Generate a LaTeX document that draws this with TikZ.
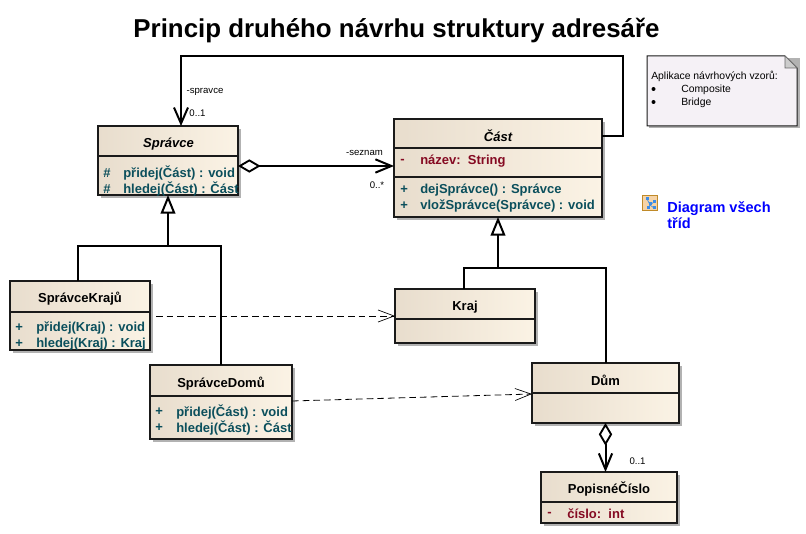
\documentclass[tikz,border=0pt]{standalone}
\usepackage{fontspec}
\setmainfont{Liberation Sans}
\usepackage{xcolor}
\usetikzlibrary{arrows.meta,shadows}
\definecolor{ramecek}{HTML}{1A1A1A}
\definecolor{levaBarva}{HTML}{E8DDCD}
\definecolor{pravaBarva}{HTML}{FBF3E5}
\definecolor{operaceBarva}{HTML}{0B4F5C}
\definecolor{atributBarva}{HTML}{850A22}
\definecolor{poznamkaBarva}{HTML}{F5F1F6}
\definecolor{ikonaRam}{HTML}{C08A28}
\definecolor{ikonaVypln}{HTML}{F6D3A6}
\definecolor{ikonaModra}{HTML}{3C8CE6}

\begin{document}
\begin{tikzpicture}[
  x=0.75pt,y=-0.75pt,
  trida/.style={draw=ramecek,line width=1.5pt,left color=levaBarva,right color=pravaBarva,
    inner sep=0pt,outer sep=0pt,general shadow={fill=black!30,shadow xshift=2.5pt,shadow yshift=-2.5pt}},
  predel/.style={draw=ramecek,line width=1.5pt},
  nazev/.style={font=\fontsize{9.75}{12}\selectfont\bfseries,text=black},
  operace/.style={anchor=west,inner sep=0pt,font=\fontsize{9.75}{12}\selectfont\bfseries,text=operaceBarva},
  atribut/.style={anchor=west,inner sep=0pt,font=\fontsize{9.75}{12}\selectfont\bfseries,text=atributBarva},
  popisek/.style={inner sep=0pt,font=\fontsize{7.2}{9}\selectfont},
  vzor/.style={inner sep=0pt,anchor=west,font=\fontsize{7.8}{9}\selectfont},
  spoj/.style={draw=black,line width=1.5pt},
  asociace/.style={spoj,-{Straight Barb[length=12pt,width=10.5pt,line width=1.5pt]}},
  agregace/.style={spoj,{Diamond[open,fill=white,length=17pt,width=10pt,line width=1.4pt]}-{Straight Barb[length=12pt,width=10pt,line width=1.5pt]}},
  dedicnost/.style={spoj,-{Triangle[open,fill=white,length=14pt,width=11pt,line width=1.5pt]}},
  zavislost/.style={draw=black,line width=0.6pt,dash pattern=on 5pt off 3pt,-{Straight Barb[length=12pt,width=9pt,line width=0.5pt]}}
]
\useasboundingbox (0,0) rectangle (806,534);

\node[font=\fontsize{19.4}{23}\selectfont\bfseries] (titulek) at (396.5,31) {Princip druhého návrhu struktury adresáře};

% tridy
\node[trida,minimum width=105pt,minimum height=51.75pt] (spravce) at (168,160.5) {};
\node[trida,minimum width=156pt,minimum height=73.5pt] (cast) at (498,168) {};
\node[trida,minimum width=105pt,minimum height=51.75pt] (spravceKraju) at (80,315.5) {};
\node[trida,minimum width=106.5pt,minimum height=55.5pt] (spravceDomu) at (221,402) {};
\node[trida,minimum width=105pt,minimum height=40.5pt] (kraj) at (465,316) {};
\node[trida,minimum width=110.25pt,minimum height=45pt] (dum) at (605.5,393) {};
\node[trida,minimum width=102pt,minimum height=38.25pt] (popisneCislo) at (609,497.5) {};

% predely
\draw[predel] (spravce.west |- 0,156) -- (spravce.east |- 0,156);
\draw[predel] (cast.west |- 0,148) -- (cast.east |- 0,148);
\draw[predel] (cast.west |- 0,177) -- (cast.east |- 0,177);
\draw[predel] (spravceKraju.west |- 0,312) -- (spravceKraju.east |- 0,312);
\draw[predel] (spravceDomu.west |- 0,396) -- (spravceDomu.east |- 0,396);
\draw[predel] (kraj.west |- 0,319) -- (kraj.east |- 0,319);
\draw[predel] (dum.west |- 0,393) -- (dum.east |- 0,393);
\draw[predel] (popisneCislo.west |- 0,502) -- (popisneCislo.east |- 0,502);

% nazvy trid
\node[nazev,font=\fontsize{9.75}{12}\selectfont\bfseries\itshape] (spravceNazev) at (168.5,144.5) {Správce};
\node[nazev,font=\fontsize{9.75}{12}\selectfont\bfseries\itshape] (castNazev) at (498,136) {Část};
\node[nazev] (spravceKrajuNazev) at (80,299) {SprávceKrajů};
\node[nazev] (spravceDomuNazev) at (221,384) {SprávceDomů};
\node[nazev] (krajNazev) at (465,307) {Kraj};
\node[nazev] (dumNazev) at (605.5,380.5) {Dům};
\node[nazev] (popisneCisloNazev) at (609,489) {PopisnéČíslo};

% cleny
\node[operace] (spravceZnak1) at (103,173) {\#};
\node[operace] (spravceOp1) at (123,173) {přidej(Část) : void};
\node[operace] (spravceZnak2) at (103,189) {\#};
\node[operace] (spravceOp2) at (123,189) {hledej(Část) : Část};
\node[atribut] (castZnak) at (400,161) {-};
\node[atribut] (castAtribut) at (420,161) {název:\ \ String};
\node[operace] (castZnak1) at (400,190) {+};
\node[operace] (castOp1) at (420,190) {dejSprávce() : Správce};
\node[operace] (castZnak2) at (400,206) {+};
\node[operace] (castOp2) at (420,206) {vložSprávce(Správce) : void};
\node[operace] (krajeZnak1) at (15,328) {+};
\node[operace] (krajeOp1) at (36,328) {přidej(Kraj) : void};
\node[operace] (krajeZnak2) at (15,344) {+};
\node[operace] (krajeOp2) at (36,344) {hledej(Kraj) : Kraj};
\node[operace] (domyZnak1) at (155,412) {+};
\node[operace] (domyOp1) at (176,412) {přidej(Část) : void};
\node[operace] (domyZnak2) at (155,428) {+};
\node[operace] (domyOp2) at (176,428) {hledej(Část) : Část};
\node[atribut] (cisloZnak) at (547,514) {-};
\node[atribut] (cisloAtribut) at (567,514) {číslo:\ \ int};

% spojnice
\coordinate (ohybA) at (623,136);
\coordinate (ohybB) at (181,56);
\coordinate (uzelA) at (168,246);
\coordinate (uzelB) at (498,268);
\draw[asociace] (ohybA -| cast.east) -- (ohybA) |- (ohybB) -- (ohybB |- spravce.north);
\draw[agregace] (spravce.east |- 0,166) -- (cast.west |- 0,166);
\draw[dedicnost] (uzelA) -- (spravce.south);
\draw[spoj] ([xshift=-1.5pt]spravceKraju.north) |- (uzelA) -| (spravceDomu.north);
\draw[dedicnost] (uzelB) -- (cast.south);
\draw[spoj] ([xshift=-0.75pt]kraj.north) |- (uzelB) -| (dum.north);
\draw[zavislost] (156,316) -- (kraj.west |- 0,316);
\draw[zavislost] (spravceDomu.east |- 0,401) -- (dum.west |- 0,394);
\draw[agregace] (dum.south) -- (dum.south |- popisneCislo.north);

% popisky spojnic
\node[popisek] (spravceRole) at (205,92) {-spravce};
\node[popisek] (spravceNasobnost) at (197.5,113.5) {0..1};
\node[popisek] (seznamRole) at (364.5,153) {-seznam};
\node[popisek] (seznamNasobnost) at (377,185.5) {0..*};
\node[popisek] (cisloNasobnost) at (637.5,461.5) {0..1};

% poznamka
\fill[black!30] (649,58) -- (799.5,58) -- (799.5,128.5) -- (649,128.5) -- cycle;
\draw[fill=poznamkaBarva,draw=ramecek,line width=0.75pt] (647,56) -- (785,56) -- (797,68) -- (797,126) -- (647,126) -- cycle;
\draw[fill=black!20,draw=black!60,line width=0.5pt] (785,56) -- (785,68) -- (797,68) -- cycle;
\node[vzor] (poznamkaText) at (651,76.5) {Aplikace návrhových vzorů:};
\fill (653.5,89) circle (1.5pt);
\node[vzor] (vzorA) at (681,89.5) {Composite};
\fill (653.5,102) circle (1.5pt);
\node[vzor] (vzorB) at (681,102.5) {Bridge};

% odkaz na diagram
\draw[fill=ikonaVypln,draw=ikonaRam,line width=1.2pt] (642.5,195.5) rectangle (657.5,210.5);
\draw[ikonaModra,line width=0.5pt] (647,199) -- (650,205) -- (648,208) (650,205) -- (654,202) (650,205) -- (654,208);
\foreach \px/\py in {647/199,650/204,654/202,648/208,654/208}
  \fill[ikonaModra] (\px-1.5,\py-1.5) rectangle (\px+1.5,\py+1.5);
\node[anchor=north west,align=left,inner sep=0pt,text=blue,font=\fontsize{10.9}{12}\selectfont\bfseries] (odkaz) at (667,201) {Diagram všech\\tříd};
\end{tikzpicture}
\end{document}
